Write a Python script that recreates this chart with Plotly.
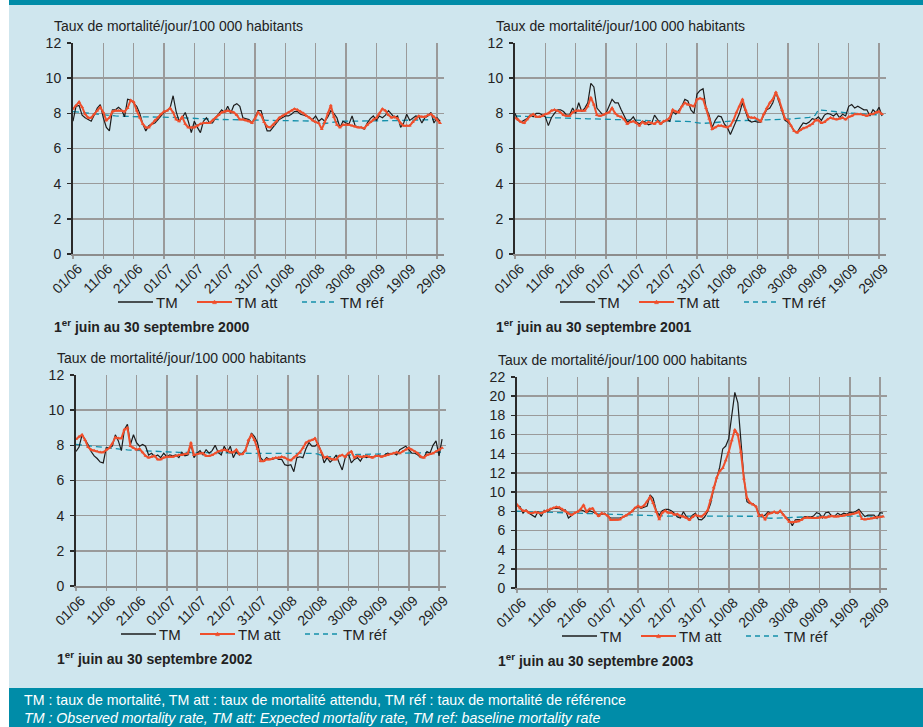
import plotly.graph_objects as go

W, H = 923, 727

# ---------------- data ----------------
tick_labels = ["01/06", "11/06", "21/06", "01/07", "11/07", "21/07", "31/07",
               "10/08", "20/08", "30/08", "09/09", "19/09", "29/09"]
tick_days = [0, 10, 20, 30, 40, 50, 60, 70, 80, 90, 100, 110, 120]
days = list(range(122))  # 1 June .. 30 September

tm_2000 = [7.55, 8.4, 8.45, 7.9, 7.75, 7.65, 7.55, 7.9, 8.3, 8.5,
           7.75, 7.2, 7.0, 8.2, 8.2, 8.35, 8.2, 7.8, 8.8, 8.75,
           8.6, 8.4, 8.0, 7.4, 7.0, 7.3, 7.4, 7.45, 7.65, 7.85,
           8.05, 8.15, 8.3, 9.0, 8.1, 7.55, 7.75, 8.05, 7.55, 6.9,
           7.55, 7.2, 6.9, 7.55, 7.75, 7.45, 7.45, 7.75, 7.95, 8.2,
           8.05, 8.4, 8.0, 8.45, 8.55, 8.4, 7.75, 7.7, 7.65, 7.45,
           7.75, 8.15, 8.15, 7.55, 7.0, 7.0, 7.2, 7.4, 7.65, 7.75,
           7.85, 7.85, 7.95, 8.1, 8.1, 7.95, 7.9, 7.85, 7.75, 7.65,
           7.85, 7.55, 7.7, 7.55, 7.8, 8.15, 8.0, 7.75, 7.2, 7.55,
           7.45, 7.4, 7.85, 7.3, 7.2, 7.2, 7.1, 7.45, 7.7, 7.85,
           7.6, 7.85, 7.75, 7.9, 8.15, 7.95, 7.75, 7.85, 7.2, 7.45,
           7.95, 7.6, 7.75, 7.85, 7.8, 7.45, 7.75, 7.85, 8.05, 7.45,
           7.75, 7.55]
att_2000 = [8.25, 8.45, 8.65, 8.35, 7.95, 7.75, 7.75, 7.95, 8.15, 8.35,
            8.05, 7.6, 7.75, 8.1, 8.15, 8.15, 8.15, 8.1, 8.3, 8.75,
            8.65, 8.15, 7.75, 7.4, 7.2, 7.2, 7.4, 7.6, 7.75, 7.95,
            8.1, 8.15, 8.3, 8.05, 7.65, 7.55, 7.8, 7.4, 7.2, 7.2,
            7.2, 7.3, 7.4, 7.45, 7.45, 7.45, 7.6, 7.75, 7.9, 8.05,
            8.1, 8.15, 8.1, 8.05, 7.9, 7.65, 7.65, 7.6, 7.55, 7.45,
            7.7, 8.05, 7.9, 7.5, 7.25, 7.2, 7.35, 7.55, 7.75, 7.85,
            7.95, 8.05, 8.15, 8.25, 8.2, 8.1, 8.0, 7.85, 7.75, 7.6,
            7.5, 7.45, 7.1, 7.5, 8.0, 8.45, 7.8, 7.35, 7.2, 7.35,
            7.35, 7.35, 7.3, 7.25, 7.2, 7.2, 7.15, 7.35, 7.5, 7.65,
            7.75, 8.0, 8.25, 8.15, 7.9, 7.75, 7.8, 7.7, 7.45, 7.3,
            7.3, 7.3, 7.5, 7.7, 7.85, 7.8, 7.8, 7.9, 7.95, 7.8,
            7.65, 7.45]
ref_2000 = [8.10, 8.08, 8.06, 8.04, 8.02, 8.00, 7.98, 7.96, 7.94, 7.92,
            7.90, 7.88, 7.87, 7.86, 7.85, 7.84, 7.83, 7.82, 7.82, 7.81,
            7.80, 7.80, 7.80, 7.80, 7.80, 7.80, 7.79, 7.79, 7.79, 7.79,
            7.78, 7.78, 7.78, 7.77, 7.77, 7.76, 7.75, 7.74, 7.72, 7.70,
            7.70, 7.70, 7.70, 7.69, 7.68, 7.67, 7.66, 7.66, 7.65, 7.65,
            7.65, 7.65, 7.65, 7.64, 7.64, 7.63, 7.63, 7.62, 7.62, 7.62,
            7.62, 7.62, 7.61, 7.61, 7.60, 7.60, 7.60, 7.60, 7.60, 7.60,
            7.60, 7.60, 7.60, 7.60, 7.60, 7.60, 7.60, 7.60, 7.58, 7.56,
            7.52, 7.45, 7.42, 7.42, 7.45, 7.50, 7.52, 7.54, 7.55, 7.55,
            7.55, 7.55, 7.55, 7.55, 7.55, 7.55, 7.55, 7.56, 7.57, 7.58,
            7.58, 7.58, 7.58, 7.58, 7.58, 7.58, 7.58, 7.59, 7.59, 7.60,
            7.60, 7.60, 7.60, 7.60, 7.60, 7.60, 7.61, 7.62, 7.64, 7.66,
            7.68, 7.70]

tm_2001 = [8.0, 7.6, 7.5, 7.6, 7.7, 7.9, 7.8, 8.0, 8.0, 7.9,
           7.8, 7.3, 7.75, 8.0, 8.2, 8.2, 8.1, 7.9, 7.9, 8.3,
           8.0, 8.6, 8.1, 8.3, 8.6, 9.7, 9.5, 8.3, 8.1, 7.9,
           8.0, 8.4, 8.8, 8.6, 8.6, 8.2, 7.8, 7.5, 7.6, 7.8,
           7.5, 7.4, 7.55, 7.5, 7.35, 7.4, 7.9, 7.65, 7.4, 7.5,
           7.65, 7.55, 8.1, 7.95, 8.2, 8.4, 8.8, 8.7, 8.2, 8.0,
           9.1, 9.3, 9.4, 8.3, 7.9, 7.2, 7.6, 7.85, 7.8, 7.4,
           7.2, 6.8, 7.2, 7.6, 8.0, 8.6, 8.1, 7.6, 7.5, 7.55,
           7.5, 7.5, 7.9, 8.2, 8.3, 8.6, 9.2, 8.7, 8.1, 7.6,
           7.5, 7.3, 7.0, 6.9, 7.2, 7.45, 7.4, 7.5, 7.7, 7.65,
           7.8, 7.6, 7.9, 8.0, 7.95, 7.85, 8.0, 7.75, 7.95, 7.85,
           8.4, 8.5, 8.3, 8.4, 8.3, 8.2, 8.2, 7.85, 8.2, 8.05,
           8.35, 7.85]
att_2001 = [7.75, 7.65, 7.5, 7.45, 7.65, 7.85, 7.95, 7.8, 7.8, 7.85,
            7.95, 8.0, 8.15, 8.2, 8.15, 8.05, 7.9, 7.85, 7.85, 8.05,
            8.15, 8.15, 8.15, 8.15, 8.4, 8.9, 8.5, 7.9, 7.85, 7.9,
            8.0, 8.05, 8.3, 8.0, 7.85, 7.8, 7.65, 7.4, 7.5, 7.55,
            7.45, 7.3, 7.5, 7.4, 7.5, 7.45, 7.4, 7.55, 7.4, 7.55,
            7.6, 7.75, 8.2, 8.1, 8.05, 8.4, 8.6, 8.5, 8.45, 8.4,
            8.8, 8.85, 8.8, 8.3, 7.7, 7.1, 7.2, 7.3, 7.3, 7.25,
            7.2, 7.3, 7.6, 8.05, 8.4, 8.8, 8.2, 7.8, 7.75, 7.75,
            7.65, 7.55, 7.95, 8.3, 8.6, 8.8, 9.2, 8.8, 8.2, 7.7,
            7.6, 7.3, 7.0, 6.9, 7.05, 7.15, 7.2, 7.3, 7.4, 7.6,
            7.6, 7.45, 7.5, 7.65, 7.75, 7.7, 7.65, 7.7, 7.75, 7.65,
            7.8, 7.85, 7.95, 7.95, 7.95, 7.9, 7.85, 7.95, 7.95, 8.05,
            8.1, 7.95]
ref_2001 = [7.85, 7.84, 7.83, 7.82, 7.81, 7.80, 7.80, 7.79, 7.78, 7.77,
            7.76, 7.76, 7.75, 7.75, 7.74, 7.74, 7.73, 7.73, 7.72, 7.72,
            7.71, 7.71, 7.70, 7.70, 7.69, 7.69, 7.68, 7.68, 7.67, 7.67,
            7.66, 7.66, 7.65, 7.65, 7.64, 7.64, 7.63, 7.63, 7.62, 7.62,
            7.61, 7.61, 7.60, 7.60, 7.59, 7.59, 7.58, 7.58, 7.57, 7.57,
            7.56, 7.56, 7.55, 7.55, 7.55, 7.55, 7.54, 7.54, 7.53, 7.50,
            7.45, 7.44, 7.43, 7.43, 7.44, 7.46, 7.48, 7.50, 7.52, 7.54,
            7.55, 7.56, 7.57, 7.58, 7.58, 7.59, 7.59, 7.60, 7.60, 7.61,
            7.61, 7.62, 7.62, 7.63, 7.63, 7.64, 7.64, 7.65, 7.65, 7.66,
            7.67, 7.68, 7.69, 7.70, 7.72, 7.73, 7.75, 7.77, 7.80, 7.90,
            8.20, 8.18, 8.15, 8.12, 8.10, 8.08, 8.06, 8.05, 8.04, 8.03,
            8.02, 8.01, 8.00, 8.00, 8.00, 8.00, 7.99, 7.98, 7.96, 7.92,
            7.90, 7.98]

tm_2002 = [7.65, 7.9, 8.6, 8.3, 8.05, 7.65, 7.4, 7.25, 7.05, 7.0,
           7.85, 7.85, 7.95, 8.6, 8.25, 7.7, 8.9, 9.2, 8.05, 8.6,
           8.15, 7.95, 8.05, 7.95, 7.45, 7.55, 7.35, 7.45, 7.3, 7.55,
           7.35, 7.45, 7.4, 7.45, 7.3, 7.6, 7.4, 7.45, 8.05, 7.3,
           7.55, 7.7, 7.45, 7.75, 7.55, 7.7, 8.0, 7.6, 7.45, 7.95,
           7.6, 7.95, 7.3, 7.65, 7.45, 7.55, 7.75, 8.15, 8.7, 8.5,
           8.15, 7.3, 7.1, 7.3, 7.2, 7.2, 7.3, 7.2, 7.2, 6.9,
           6.85, 6.9, 6.5, 7.3, 7.35, 7.3, 7.8, 8.15, 7.95, 7.95,
           8.1, 7.65, 7.0, 7.3, 7.05, 7.2, 7.45, 7.0, 6.6, 7.3,
           7.55, 7.0, 7.2, 7.3, 7.1, 7.4, 7.3, 7.35, 7.35, 7.35,
           7.45, 7.35, 7.45, 7.55, 7.5, 7.55, 7.45, 7.75, 7.85, 7.95,
           7.75, 7.55, 7.55, 7.45, 7.3, 7.3, 7.65, 7.55, 8.0, 8.25,
           7.4, 8.35]
att_2002 = [8.35, 8.5, 8.6, 8.3, 7.9, 7.75, 7.7, 7.65, 7.6, 7.6,
            7.75, 7.85, 8.1, 8.45, 8.4, 8.4, 8.9, 9.0, 7.95, 7.85,
            7.75, 7.8, 7.6, 7.4, 7.3, 7.35, 7.4, 7.2, 7.2, 7.3,
            7.35, 7.35, 7.35, 7.4, 7.45, 7.45, 7.5, 7.55, 8.15, 7.45,
            7.5, 7.55, 7.55, 7.4, 7.4, 7.45, 7.55, 7.65, 7.7, 7.75,
            7.7, 7.6, 7.6, 7.75, 7.5, 7.5, 7.7, 8.3, 8.6, 8.3,
            7.8, 7.1, 7.1, 7.2, 7.2, 7.25, 7.3, 7.3, 7.35, 7.3,
            7.2, 7.15, 7.3, 7.4, 7.6, 7.85, 8.15, 8.25, 8.3, 8.4,
            8.0, 7.6, 7.3, 7.35, 7.25, 7.2, 7.2, 7.4, 7.45, 7.35,
            7.55, 7.65, 7.3, 7.4, 7.35, 7.35, 7.4, 7.35, 7.3, 7.4,
            7.4, 7.35, 7.4, 7.45, 7.5, 7.55, 7.6, 7.55, 7.65, 7.75,
            7.85, 7.75, 7.65, 7.55, 7.35, 7.3, 7.45, 7.5, 7.55, 7.65,
            7.75, 7.85]
ref_2002 = [8.05, 8.03, 8.01, 7.99, 7.97, 7.95, 7.93, 7.91, 7.89, 7.87,
            7.85, 7.83, 7.81, 7.79, 7.77, 7.76, 7.75, 7.74, 7.73, 7.72,
            7.71, 7.70, 7.69, 7.68, 7.67, 7.66, 7.65, 7.64, 7.63, 7.62,
            7.62, 7.61, 7.61, 7.60, 7.60, 7.60, 7.60, 7.60, 7.60, 7.60,
            7.59, 7.59, 7.59, 7.58, 7.58, 7.58, 7.57, 7.57, 7.57, 7.56,
            7.56, 7.56, 7.56, 7.55, 7.55, 7.55, 7.55, 7.55, 7.55, 7.55,
            7.55, 7.55, 7.55, 7.55, 7.55, 7.55, 7.55, 7.55, 7.55, 7.55,
            7.55, 7.55, 7.55, 7.55, 7.55, 7.55, 7.55, 7.55, 7.55, 7.54,
            7.50, 7.42, 7.37, 7.35, 7.35, 7.36, 7.38, 7.40, 7.42, 7.44,
            7.45, 7.46, 7.47, 7.48, 7.48, 7.49, 7.49, 7.50, 7.50, 7.50,
            7.51, 7.51, 7.52, 7.52, 7.53, 7.53, 7.54, 7.54, 7.55, 7.55,
            7.56, 7.56, 7.57, 7.57, 7.58, 7.58, 7.59, 7.59, 7.60, 7.60,
            7.61, 7.61]

tm_2003 = [8.6, 8.5, 7.8, 8.15, 7.8, 7.6, 7.4, 8.0, 7.45, 8.1,
           7.95, 8.15, 8.3, 8.3, 8.3, 8.1, 8.15, 7.3, 7.6, 7.8,
           7.95, 8.15, 8.05, 7.85, 8.05, 7.95, 7.8, 7.6, 7.7, 7.8,
           7.45, 7.3, 7.3, 7.3, 7.3, 7.4, 7.5, 7.8, 7.95, 8.3,
           8.5, 8.3, 8.4, 8.55, 9.7, 9.35, 8.1, 7.6, 8.05, 8.2,
           8.2, 8.05, 7.8, 7.4, 7.3, 7.95, 7.45, 7.15, 7.6, 7.8,
           7.15, 7.1, 7.4, 7.95, 8.8, 10.3, 11.4, 12.6, 14.5, 14.8,
           15.6, 18.3, 20.4, 19.3, 15.0, 11.5, 9.0, 8.8, 8.8, 8.5,
           7.7, 7.5, 7.6, 7.95, 7.8, 7.9, 7.75, 8.0, 7.7, 7.3,
           7.1, 6.5, 7.1, 7.1, 7.15, 7.45, 7.45, 7.4, 7.5, 7.85,
           7.75, 7.3, 7.85, 7.9, 7.5, 7.5, 7.8, 7.6, 7.8, 7.7,
           7.9, 7.85, 8.0, 8.2, 7.8, 7.45, 7.6, 7.6, 7.6, 7.25,
           7.85, 7.8]
att_2003 = [8.7, 8.3, 8.05, 8.05, 7.85, 7.8, 7.9, 7.85, 7.8, 7.95,
            8.1, 8.25, 8.35, 8.45, 8.4, 8.2, 8.0, 7.75, 7.6, 7.8,
            7.95, 8.2, 8.65, 7.95, 8.25, 8.3, 7.8, 7.5, 7.8, 7.7,
            7.55, 7.1, 7.1, 7.1, 7.15, 7.4, 7.55, 7.75, 8.0, 8.35,
            8.55, 8.4, 8.6, 9.0, 9.5, 8.85, 7.95, 7.15, 7.85, 8.05,
            7.85, 7.85, 7.65, 7.7, 7.5, 7.45, 7.3, 7.1, 7.4, 7.6,
            7.5, 7.45, 7.7, 8.1, 9.2, 10.5, 11.5, 12.2, 12.5, 13.3,
            14.2, 15.4, 16.5, 16.0, 14.2, 11.4, 9.4, 8.9, 8.7, 8.5,
            7.5, 7.6, 7.15, 7.75, 7.8, 7.95, 7.8, 8.05, 7.65, 7.3,
            6.9, 6.85, 6.9, 6.95, 7.1, 7.3, 7.35, 7.3, 7.3, 7.3,
            7.35, 7.4, 7.35, 7.45, 7.5, 7.45, 7.45, 7.5, 7.55, 7.6,
            7.65, 7.7, 7.8, 7.95, 7.2, 7.15, 7.2, 7.25, 7.35, 7.4,
            7.4, 7.45]
ref_2003 = [8.00, 7.99, 7.98, 7.97, 7.96, 7.95, 7.94, 7.93, 7.92, 7.91,
            7.90, 7.88, 7.86, 7.84, 7.82, 7.80, 7.78, 7.77, 7.76, 7.75,
            7.74, 7.73, 7.72, 7.71, 7.70, 7.69, 7.68, 7.67, 7.66, 7.65,
            7.64, 7.63, 7.62, 7.61, 7.60, 7.59, 7.58, 7.57, 7.56, 7.55,
            7.54, 7.53, 7.52, 7.51, 7.50, 7.50, 7.50, 7.50, 7.50, 7.50,
            7.50, 7.50, 7.50, 7.50, 7.50, 7.50, 7.50, 7.50, 7.50, 7.50,
            7.50, 7.50, 7.50, 7.50, 7.50, 7.50, 7.50, 7.50, 7.50, 7.50,
            7.50, 7.50, 7.50, 7.50, 7.50, 7.50, 7.50, 7.50, 7.50, 7.50,
            7.48, 7.40, 7.32, 7.28, 7.27, 7.27, 7.28, 7.29, 7.30, 7.32,
            7.34, 7.36, 7.38, 7.40, 7.41, 7.42, 7.43, 7.44, 7.45, 7.46,
            7.47, 7.48, 7.49, 7.50, 7.50, 7.50, 7.50, 7.50, 7.50, 7.50,
            7.50, 7.50, 7.50, 7.50, 7.50, 7.50, 7.50, 7.50, 7.50, 7.50,
            7.50, 7.50]

periods = ["2000", "2001", "2002", "2003"]
y_max = [12, 12, 12, 22]
axis_title = "Taux de mortalité/jour/100 000 habitants"
series_names = ["TM", "TM att", "TM réf"]
footer_fr = "TM : taux de mortalité, TM att : taux de mortalité attendu, TM réf : taux de mortalité de référence"
footer_en = "TM : Observed mortality rate, TM att: Expected mortality rate, TM ref: baseline mortality rate"

# ---------------- styling ----------------
BG = "#cfe6ee"
TEAL = "#008ca8"
GRID = "#9a9a9a"
C_TM = "#1c1c1c"
C_ATT = "#ef4f2c"
C_REF = "#1590ab"
FONT = "Liberation Sans, Arial, sans-serif"
NARROW = "Liberation Sans Narrow, Arial Narrow, Liberation Sans, sans-serif"

# panel plot-area boxes in pixels: left, right, top, bottom
boxes = [(73, 444, 43, 254), (515, 886, 43, 254),
         (76, 446, 375, 586), (517, 887, 377, 588)]

def fx(p):
    return p / W

def fy(p):
    return 1 - p / H

data_sets = [(tm_2000, att_2000, ref_2000), (tm_2001, att_2001, ref_2001),
             (tm_2002, att_2002, ref_2002), (tm_2003, att_2003, ref_2003)]

fig = go.Figure()
layout = {}
shapes = []
annotations = []

# background blocks
shapes.append(dict(type="rect", xref="paper", yref="paper", x0=fx(9), x1=1,
                   y0=fy(688), y1=fy(0), fillcolor=BG, line=dict(width=0), layer="below"))
shapes.append(dict(type="rect", xref="paper", yref="paper", x0=fx(9), x1=1,
                   y0=fy(5), y1=fy(0), fillcolor=TEAL, line=dict(width=0), layer="below"))
shapes.append(dict(type="rect", xref="paper", yref="paper", x0=fx(9), x1=1,
                   y0=0, y1=fy(688), fillcolor=TEAL, line=dict(width=0), layer="below"))

for i, ((tm, att, ref), (l, r, t, b), ym, per) in enumerate(zip(data_sets, boxes, y_max, periods)):
    k = "" if i == 0 else str(i + 1)
    xa, ya = "x" + k, "y" + k
    fig.add_trace(go.Scatter(x=days, y=ref, xaxis=xa, yaxis=ya, mode="lines",
                             line=dict(color=C_REF, width=1.3, dash="6px,4px"),
                             name=series_names[2], showlegend=False, hoverinfo="skip"))
    fig.add_trace(go.Scatter(x=days, y=tm, xaxis=xa, yaxis=ya, mode="lines",
                             line=dict(color=C_TM, width=1.2),
                             name=series_names[0], showlegend=False, hoverinfo="skip"))
    fig.add_trace(go.Scatter(x=days, y=att, xaxis=xa, yaxis=ya, mode="lines+markers",
                             line=dict(color=C_ATT, width=2),
                             marker=dict(symbol="triangle-up", size=3.5, color=C_ATT),
                             name=series_names[1], showlegend=False, hoverinfo="skip"))
    layout["xaxis" + k] = dict(
        domain=[fx(l), fx(r)], anchor=ya, range=[0, 122.3], automargin=False,
        tickmode="array", tickvals=tick_days, ticktext=tick_labels, tickangle=-45,
        ticklabelshift=5, ticklabelstandoff=-4,
        showgrid=True, gridcolor=GRID, gridwidth=1.5, zeroline=False,
        showline=True, linecolor="#8c8c8c", linewidth=2,
        ticks="outside", ticklen=3, tickcolor=GRID, tickwidth=1.5,
        tickfont=dict(family=FONT, size=14, color="#222222"), fixedrange=True)
    layout["yaxis" + k] = dict(
        domain=[fy(b), fy(t)], anchor=xa, range=[0, ym], dtick=2, tick0=0, automargin=False,
        ticklabelstandoff=3,
        showgrid=True, gridcolor=GRID, gridwidth=1.5, zeroline=False,
        showline=True, linecolor="#2a2a2a", linewidth=2,
        ticks="outside", ticklen=4, tickcolor="#2a2a2a", tickwidth=1.5,
        tickfont=dict(family=FONT, size=14, color="#222222"), fixedrange=True)

    # axis title (top-left)
    annotations.append(dict(xref="paper", yref="paper", x=fx(l - 21), y=fy(t - 17),
                            xanchor="left", yanchor="middle", showarrow=False,
                            text=axis_title, font=dict(family=FONT, size=14, color="#222222")))
    # caption
    annotations.append(dict(xref="paper", yref="paper", x=fx(l - 21), y=fy(b + 72),
                            xanchor="left", yanchor="middle", showarrow=False,
                            text="<b>1<sup>er</sup> juin au 30 septembre " + per + "</b>",
                            font=dict(family=FONT, size=14, color="#222222")))
    # legend
    ly = b + 48
    items = [(45, series_names[0], C_TM, "solid", 1.3),
             (124, series_names[1], C_ATT, "solid", 2),
             (229, series_names[2], C_REF, "5px,4px", 1.3)]
    for off, name, col, dash, wdt in items:
        shapes.append(dict(type="line", xref="paper", yref="paper",
                           x0=fx(l + off), x1=fx(l + off + 35), y0=fy(ly), y1=fy(ly),
                           line=dict(color=col, width=wdt, dash=dash)))
        if name == series_names[1]:
            cx = l + off + 17.5
            shapes.append(dict(type="path", xref="paper", yref="paper",
                               path="M {} {} L {} {} L {} {} Z".format(
                                   fx(cx - 2), fy(ly + 1.7), fx(cx + 2), fy(ly + 1.7), fx(cx), fy(ly - 2)),
                               fillcolor=col, line=dict(color=col, width=0.5)))
        annotations.append(dict(xref="paper", yref="paper", x=fx(l + off + 36), y=fy(ly),
                                xanchor="left", yanchor="middle", showarrow=False,
                                text=name, font=dict(family=FONT, size=15, color="#222222")))

# footer
annotations.append(dict(xref="paper", yref="paper", x=fx(22), y=fy(700), xanchor="left",
                        yanchor="middle", showarrow=False, text=footer_fr,
                        font=dict(family=NARROW, size=14.2, color="white")))
annotations.append(dict(xref="paper", yref="paper", x=fx(22), y=fy(718), xanchor="left",
                        yanchor="middle", showarrow=False, text="<i>" + footer_en + "</i>",
                        font=dict(family=NARROW, size=14.2, color="white")))

fig.update_layout(width=W, height=H,
                  margin=dict(l=0, r=0, t=0, b=0, pad=0, autoexpand=False),
                  paper_bgcolor="white", plot_bgcolor="rgba(0,0,0,0)",
                  showlegend=False, shapes=shapes, annotations=annotations, **layout)
fig.write_html("out.html",
               config={"displayModeBar": False, "staticPlot": True},
               post_script="document.body.style.margin='0';document.body.style.padding='0';"
                           "document.documentElement.style.overflow='hidden';")
